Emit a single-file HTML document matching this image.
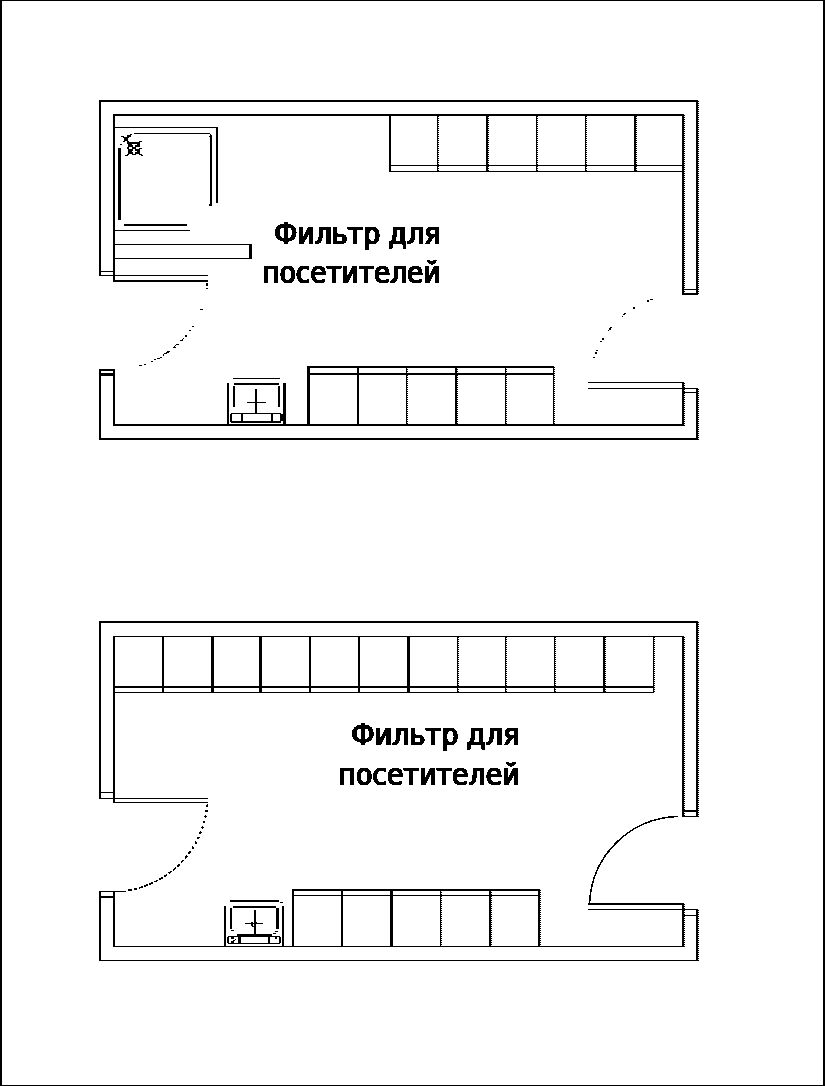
<!DOCTYPE html>
<html lang="ru"><head><meta charset="utf-8"><title>Фильтр для посетителей</title>
<style>
html,body{margin:0;padding:0;background:#fff}
svg{display:block}
text{font-family:"DejaVu Sans Condensed","DejaVu Sans","Liberation Sans",sans-serif;fill:#000;stroke:#000;stroke-width:0.7px}
</style></head><body>
<svg width="825" height="1086" viewBox="0 0 825 1086">
<rect width="825" height="1086" fill="#fff"/>
<defs><filter id="bw" x="-5%" y="-20%" width="110%" height="140%" color-interpolation-filters="sRGB"><feComponentTransfer><feFuncA type="discrete" tableValues="0 1"/></feComponentTransfer></filter><filter id="bwt" x="-5%" y="-20%" width="110%" height="140%" color-interpolation-filters="sRGB"><feOffset in="SourceGraphic" dx="1" dy="0" result="o"/><feMerge result="m"><feMergeNode in="SourceGraphic"/><feMergeNode in="o"/></feMerge><feComponentTransfer in="m"><feFuncA type="discrete" tableValues="0 1"/></feComponentTransfer></filter></defs>
<g shape-rendering="crispEdges">
<path d="M0 0h825v1h-825zM0 1085h825v1h-825zM0 0h2v1086h-2zM823 0h2v1086h-2zM99 100h599v2h-599zM99 100h2v176h-2zM696 100h2v195h-2zM99 271h16v1h-16zM99 275h16v1h-16zM113 114h571v2h-571zM113 114h2v168h-2zM682 114h2v181h-2zM682 289h16v1h-16zM682 293h16v2h-16zM113 275h95v1h-95zM113 280h95v2h-95zM99 369h16v2h-16zM99 373h16v3h-16zM99 369h2v71h-2zM113 369h2v57h-2zM113 424h571v2h-571zM99 438h599v2h-599zM682 382h2v44h-2zM696 388h2v52h-2zM588 382h96v1h-96zM588 388h110v1h-110zM684 392h14v1h-14zM389 115h2v57h-2zM437 115h1v57h-1zM486 115h2v57h-2zM536 115h1v57h-1zM585 115h1v57h-1zM634 115h2v57h-2zM389 165h295v1h-295zM389 171h295v1h-295zM307 366h3v59h-3zM357 366h2v59h-2zM406 366h1v59h-1zM455 366h2v59h-2zM505 366h1v59h-1zM553 366h1v59h-1zM307 366h247v2h-247zM307 373h247v2h-247zM115 127h103v1h-103zM216 127h2v76h-2zM134 133h76v1h-76zM210 134h1v1h-1zM210 135h2v71h-2zM209 204h1v2h-1zM209 136h1v1h-1zM118 148h3v72h-3zM124 224h63v2h-63zM115 230h75v1h-75zM115 244h137v1h-137zM115 258h137v1h-137zM249 244h3v15h-3zM227 383h2v42h-2zM283 383h3v42h-3zM233 378h47v1h-47zM234 383h45v2h-45zM233 386h2v21h-2zM278 386h2v21h-2zM255 389h2v25h-2zM247 402h19v1h-19zM231 413h50v1h-50zM231 421h50v2h-50zM230 414h2v8h-2zM280 414h1v8h-1zM281 414h2v7h-2zM241 414h2v8h-2zM271 414h2v8h-2zM130 134h2v1h-2zM127 135h4v2h-4zM121 136h3v1h-3zM123 137h6v1h-6zM124 138h4v3h-4zM123 141h2v1h-2zM127 141h2v1h-2zM127 142h13v2h-13zM128 144h12v10h-12zM127 147h2v2h-2zM139 141h3v1h-3zM139 148h3v1h-3zM139 154h3v1h-3zM141 155h2v1h-2zM127 154h2v1h-2zM125 155h3v1h-3zM132 154h4v1h-4zM120 144h2v1h-2zM206 283h2v3h-2zM206 288h2v1h-2zM200 309h3v1h-3zM192 326h2v1h-2zM189 330h2v1h-2zM185 335h2v2h-2zM183 338h1v1h-1zM182 339h1v1h-1zM180 340h3v1h-3zM176 344h3v1h-3zM175 345h1v1h-1zM174 346h1v1h-1zM173 347h3v1h-3zM167 351h3v1h-3zM166 352h3v1h-3zM164 353h3v1h-3zM163 354h1v2h-1zM160 357h2v1h-2zM157 358h3v1h-3zM154 359h2v1h-2zM151 361h2v1h-2zM144 364h2v1h-2zM139 365h3v1h-3zM650 299h3v1h-3zM647 300h2v2h-2zM633 307h2v2h-2zM624 313h2v1h-2zM623 314h2v1h-2zM622 316h1v1h-1zM610 327h2v1h-2zM609 328h2v2h-2zM608 330h1v1h-1zM602 338h2v2h-2zM600 341h2v1h-2zM596 350h2v1h-2zM595 352h2v2h-2zM593 357h2v1h-2zM99 621h599v2h-599zM99 621h2v178h-2zM696 621h2v196h-2zM99 792h16v1h-16zM99 798h16v1h-16zM113 636h571v1h-571zM113 636h2v167h-2zM682 636h2v181h-2zM682 810h16v2h-16zM682 816h16v1h-16zM113 798h95v1h-95zM113 802h95v1h-95zM99 891h27v1h-27zM99 896h16v2h-16zM99 891h2v70h-2zM113 891h2v56h-2zM113 946h571v1h-571zM99 960h599v1h-599zM682 903h2v44h-2zM696 909h2v52h-2zM588 903h96v2h-96zM588 909h110v1h-110zM684 915h14v1h-14zM162 636h2v57h-2zM211 636h3v57h-3zM259 636h3v57h-3zM309 636h2v57h-2zM358 636h2v57h-2zM407 636h3v57h-3zM457 636h1v57h-1zM505 636h1v57h-1zM554 636h1v57h-1zM603 636h2v57h-2zM653 636h1v57h-1zM113 686h541v2h-541zM113 692h541v1h-541zM292 889h2v58h-2zM341 889h2v58h-2zM390 889h3v58h-3zM440 889h1v58h-1zM489 889h2v58h-2zM538 889h2v58h-2zM292 889h248v2h-248zM292 895h248v1h-248zM224 906h2v41h-2zM282 906h2v41h-2zM230 900h49v2h-49zM280 902h3v1h-3zM233 906h43v2h-43zM230 908h2v21h-2zM276 908h3v21h-3zM231 930h3v1h-3zM275 931h3v1h-3zM273 933h3v1h-3zM254 910h2v27h-2zM245 923h18v1h-18zM237 934h35v2h-35zM228 936h52v1h-52zM228 943h52v1h-52zM227 937h2v6h-2zM279 937h2v6h-2zM238 936h3v8h-3zM268 936h2v8h-2zM231 937h3v2h-3zM235 939h1v1h-1zM233 940h2v1h-2zM231 941h3v2h-3zM275 937h2v2h-2zM251 922h2v4h-2zM252 926h2v1h-2zM256 922h1v1h-1z" fill="#000"/>
<path d="M132 144h5v1h-5zM133 145h2v2h-2zM129 147h3v2h-3zM136 147h4v1h-4zM136 148h3v1h-3zM132 151h5v1h-5zM133 149h2v5h-2z" fill="#fff"/>
<path d="M698.5 101V295" stroke="#000" stroke-width="1" stroke-dasharray="1 1" fill="none"/>
<path d="M684.5 115V295" stroke="#000" stroke-width="1" stroke-dasharray="1 1" fill="none"/>
<path d="M684.5 383V426" stroke="#000" stroke-width="1" stroke-dasharray="1 1" fill="none"/>
<path d="M698.5 389V440" stroke="#000" stroke-width="1" stroke-dasharray="1 1" fill="none"/>
<path d="M438.5 116V172" stroke="#000" stroke-width="1" stroke-dasharray="1 1" fill="none"/>
<path d="M488.5 116V172" stroke="#000" stroke-width="1" stroke-dasharray="1 1" fill="none"/>
<path d="M537.5 116V172" stroke="#000" stroke-width="1" stroke-dasharray="1 1" fill="none"/>
<path d="M586.5 116V172" stroke="#000" stroke-width="1" stroke-dasharray="1 1" fill="none"/>
<path d="M636.5 116V172" stroke="#000" stroke-width="1" stroke-dasharray="1 1" fill="none"/>
<path d="M407.5 367V425" stroke="#000" stroke-width="1" stroke-dasharray="1 1" fill="none"/>
<path d="M457.5 367V425" stroke="#000" stroke-width="1" stroke-dasharray="1 1" fill="none"/>
<path d="M506.5 367V425" stroke="#000" stroke-width="1" stroke-dasharray="1 1" fill="none"/>
<path d="M554.5 367V425" stroke="#000" stroke-width="1" stroke-dasharray="1 1" fill="none"/>
<path d="M698.5 622V817" stroke="#000" stroke-width="1" stroke-dasharray="1 1" fill="none"/>
<path d="M684.5 637V817" stroke="#000" stroke-width="1" stroke-dasharray="1 1" fill="none"/>
<path d="M684.5 904V947" stroke="#000" stroke-width="1" stroke-dasharray="1 1" fill="none"/>
<path d="M698.5 910V961" stroke="#000" stroke-width="1" stroke-dasharray="1 1" fill="none"/>
<path d="M458.5 637V693" stroke="#000" stroke-width="1" stroke-dasharray="1 1" fill="none"/>
<path d="M506.5 637V693" stroke="#000" stroke-width="1" stroke-dasharray="1 1" fill="none"/>
<path d="M555.5 637V693" stroke="#000" stroke-width="1" stroke-dasharray="1 1" fill="none"/>
<path d="M605.5 637V693" stroke="#000" stroke-width="1" stroke-dasharray="1 1" fill="none"/>
<path d="M654.5 637V693" stroke="#000" stroke-width="1" stroke-dasharray="1 1" fill="none"/>
<path d="M441.5 890V947" stroke="#000" stroke-width="1" stroke-dasharray="1 1" fill="none"/>
<path d="M491.5 890V947" stroke="#000" stroke-width="1" stroke-dasharray="1 1" fill="none"/>
<path d="M540.5 890V947" stroke="#000" stroke-width="1" stroke-dasharray="1 1" fill="none"/>
</g>
<g filter="url(#bw)">
<path d="M207.3 804.5A94.5 94.5 0 0 1 190.5 851.2" fill="none" stroke="#000" stroke-width="2.3" stroke-dasharray="2.3 3.3"/>
<path d="M190.5 851.2A94.5 94.5 0 0 1 128 890.3" fill="none" stroke="#000" stroke-width="1.8" stroke-dasharray="3.9 1.6"/>
<path d="M589.6 902.5A90.6 90.6 0 0 1 678 816.45" fill="none" stroke="#000" stroke-width="1.55"/>

</g>
<g filter="url(#bwt)">
<text x="273.71" y="243.65" textLength="105.94" lengthAdjust="spacingAndGlyphs" font-size="31">Фильтр</text>
<text x="387.69" y="243.65" textLength="52.41" lengthAdjust="spacingAndGlyphs" font-size="31">для</text>
<text x="261.96" y="282.65" textLength="177.89" lengthAdjust="spacingAndGlyphs" font-size="31">посетителей</text>
<text x="350.75" y="744.65" textLength="107.13" lengthAdjust="spacingAndGlyphs" font-size="31">Фильтр</text>
<text x="465.96" y="744.65" textLength="53.17" lengthAdjust="spacingAndGlyphs" font-size="31">для</text>
<text x="337.95" y="784.65" textLength="181.12" lengthAdjust="spacingAndGlyphs" font-size="31">посетителей</text>
</g>
</svg>
</body></html>
